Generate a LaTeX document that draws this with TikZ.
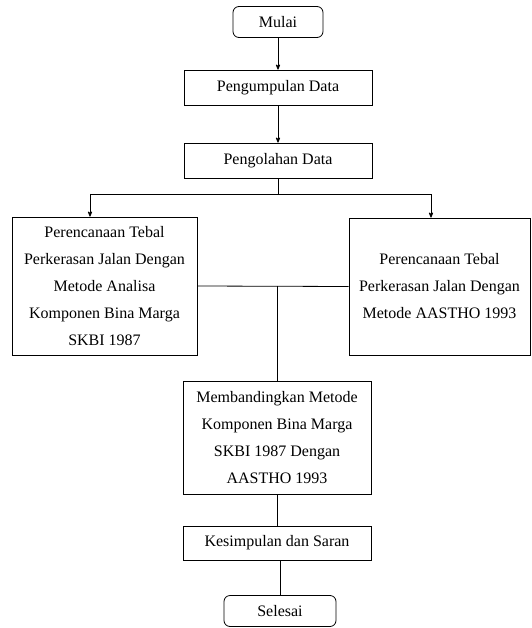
\documentclass[tikz,border=0pt]{standalone}
\usepackage{fontspec}
\setmainfont{Liberation Serif}
\usetikzlibrary{arrows,positioning}

\begin{document}
\begin{tikzpicture}[>=stealth',x=1pt,y=-1pt,line width=0.8pt,
  every node/.style={font=\fontsize{16}{27}\selectfont,align=center,inner sep=0pt},
  proses/.style={draw,rectangle,minimum width=188pt,minimum height=35pt},
  terminal/.style={draw,rounded corners=6pt,minimum height=31pt}]
	\useasboundingbox (0,0) rectangle (531,628);
	\node[terminal,minimum width=90pt]  (mulai)   at (278,22)    {Mulai};
	\node[proses]                       (kumpul)  at (278,87.5)  {Pengumpulan Data};
	\node[proses]                       (olah)    at (278,160.5) {Pengolahan Data};
	\node[proses,minimum width=185pt,minimum height=138pt] (skbi) at (104.5,286)
	  {Perencanaan Tebal\\Perkerasan Jalan Dengan\\Metode Analisa\\Komponen Bina Marga\\SKBI 1987};
	\node[proses,minimum width=181pt,minimum height=137pt] (aastho) at (439.5,286.5)
	  {Perencanaan Tebal\\Perkerasan Jalan Dengan\\Metode AASTHO 1993};
	\node[proses,minimum height=113pt]  (banding) at (277,437.5)
	  {Membandingkan Metode\\Komponen Bina Marga\\SKBI 1987 Dengan\\AASTHO 1993};
	\node[proses,minimum height=34pt]   (simpul)  at (277,543)   {Kesimpulan dan Saran};
	\node[terminal,minimum width=112pt] (selesai) at (280,611)   {Selesai};
	% cabang
	\coordinate (kiri)  at (90,194);
	\coordinate (kanan) at (431,194);
	\draw[->] (mulai) -- (kumpul);
	\draw[->] (kumpul) -- (olah);
	\draw (olah.south) -- (olah.south |- kiri);
	\draw[->] (kiri) -- (kanan |- kiri) -- (kanan |- aastho.north);
	\draw[->] (kiri) -- (kiri |- skbi.north);
	\draw (skbi.east) -- (aastho.west);
	\draw (banding.north |- skbi.east) -- (banding.north);
	\draw (banding.south) -- (banding.south |- simpul.north);
	\draw (simpul.south) -- (simpul.south -| selesai.north) -- (selesai.north);
\end{tikzpicture}
\end{document}
